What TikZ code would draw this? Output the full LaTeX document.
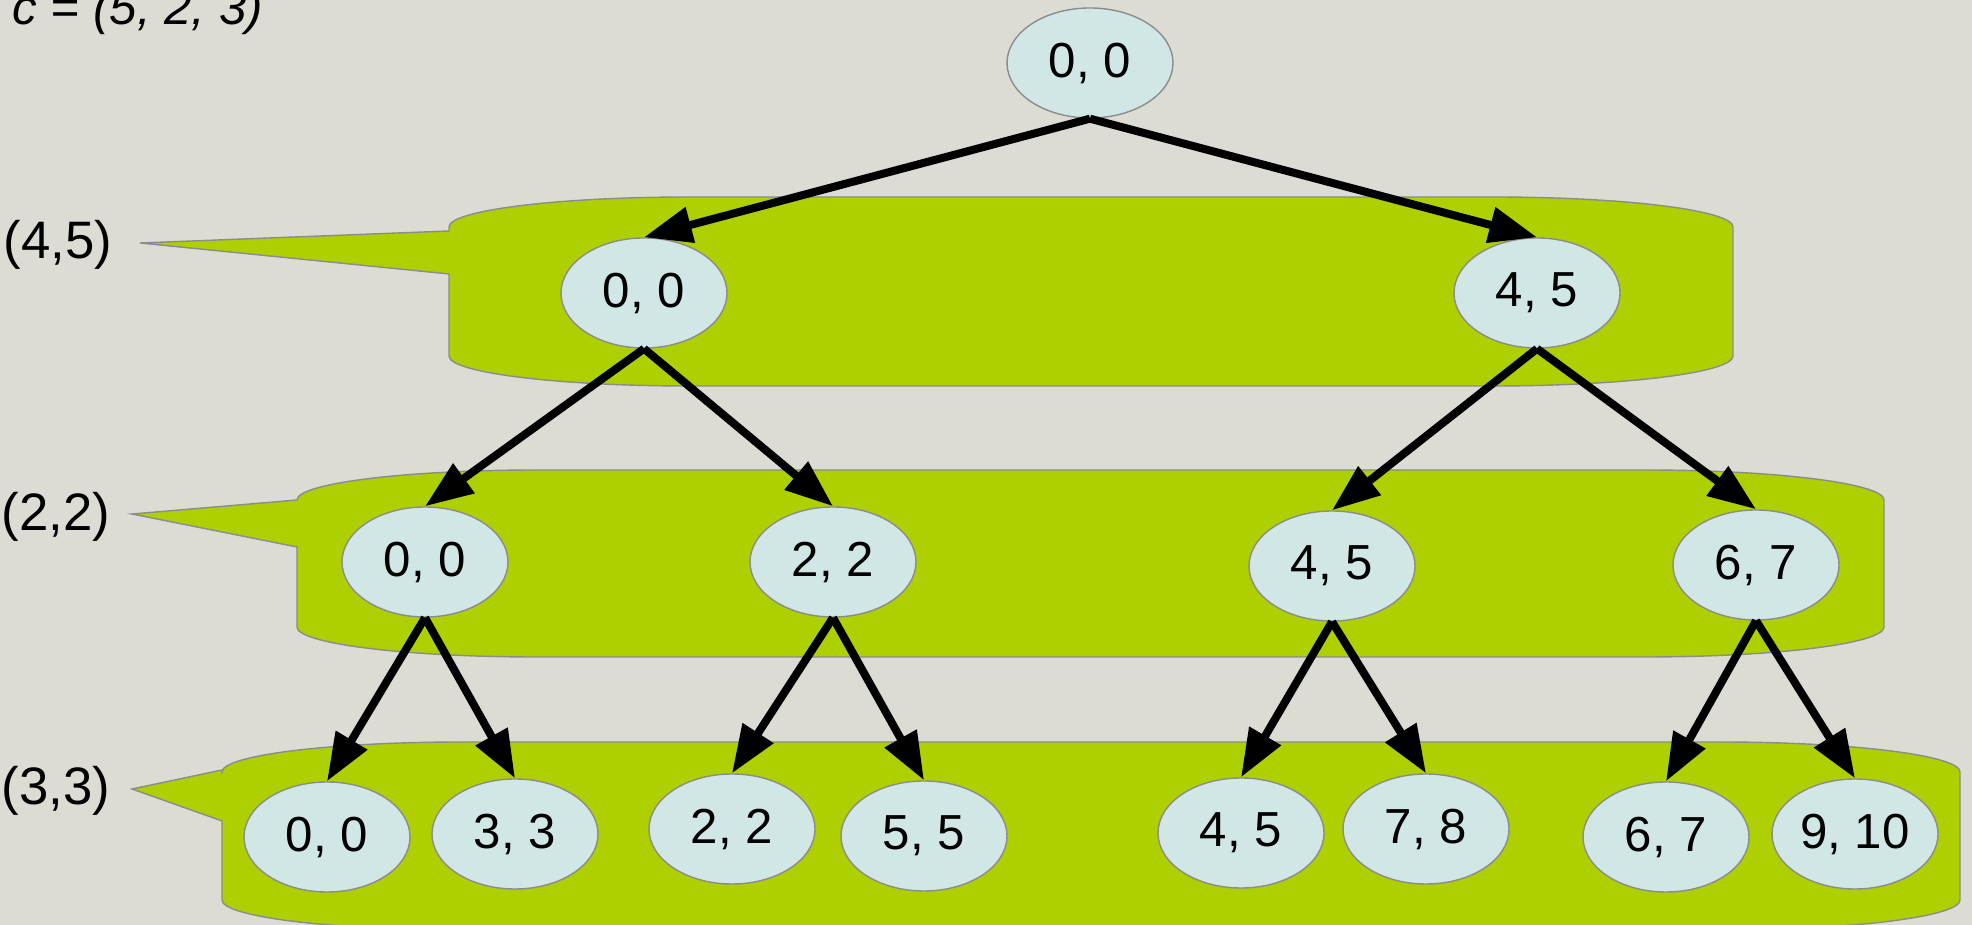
\documentclass[tikz,border=0pt]{standalone}
\usepackage{fontspec}
\setmainfont{Liberation Sans}
\usetikzlibrary{arrows.meta,shapes.geometric}

\definecolor{paper}{RGB}{221,220,212}
\definecolor{leaf}{RGB}{174,207,0}
\definecolor{cell}{RGB}{208,231,230}

% speech bubble: left, right, top, bottom, tip x, tip y, upper and lower joint of the tail
\newcommand{\callout}[8]{%
\filldraw[bubble] (#1,#7) -- (#5,#6) -- (#1,#8) -- (#1,#4+0.3)
 arc[start angle=180,end angle=270,x radius=2.4,y radius=0.3] -- (#2-2.4,#4)
 arc[start angle=270,end angle=360,x radius=2.4,y radius=0.3] -- (#2,#3-0.3)
 arc[start angle=0,end angle=90,x radius=2.4,y radius=0.3] -- (#1+2.4,#3)
 arc[start angle=90,end angle=180,x radius=2.4,y radius=0.3] -- cycle;}

\begin{document}
\begin{tikzpicture}[
  pair/.style={ellipse,draw=black!45,line width=0.4pt,fill=cell,minimum width=1.66cm,minimum height=1.10cm,inner sep=0pt,font=\fontsize{14}{16}\selectfont},
  level/.style={anchor=east,inner sep=0pt,font=\fontsize{15}{17}\selectfont},
  bubble/.style={fill=leaf,draw=black!45,line width=0.4pt},
  link/.style={line width=0.08cm,-{Triangle[length=4.8mm,width=3.5mm]}}]
\fill[paper] (0,0) rectangle (19.72,-9.25);
\clip (0,0) rectangle (19.72,-9.25);

\node[anchor=base west,inner sep=0pt,font=\fontsize{14}{16}\selectfont\itshape] (cv) at (0.12,-0.25) {c = (5, 2, 3)};

% one bubble per level
\callout{4.49}{17.33}{-1.97}{-3.86}{1.40}{-2.43}{-2.31}{-2.74}
\callout{2.97}{18.84}{-4.70}{-6.57}{1.32}{-5.14}{-5.00}{-5.47}
\callout{2.22}{19.60}{-7.42}{-9.30}{1.32}{-7.89}{-7.70}{-8.21}
\node[level] (s1) at (1.13,-2.45) {(4,5)};
\node[level] (s2) at (1.11,-5.17) {(2,2)};
\node[level] (s3) at (1.11,-7.91) {(3,3)};

\node[pair] (r) at (10.90,-0.63) {0, 0};
\node[pair] (a1) at (6.44,-2.93) {0, 0}; \node[pair] (a2) at (15.37,-2.93) {4, 5};
\node[pair] (b1) at (4.25,-5.62) {0, 0}; \node[pair] (b2) at (8.33,-5.62) {2, 2};
\node[pair] (b3) at (13.32,-5.66) {4, 5}; \node[pair] (b4) at (17.56,-5.65) {6, 7};
\node[pair] (c1) at (3.27,-8.37) {0, 0}; \node[pair] (c2) at (5.15,-8.34) {3, 3};
\node[pair] (c3) at (7.32,-8.29) {2, 2}; \node[pair] (c4) at (9.24,-8.36) {5, 5};
\node[pair] (c5) at (12.41,-8.33) {4, 5}; \node[pair] (c6) at (14.26,-8.29) {7, 8};
\node[pair] (c7) at (16.66,-8.37) {6, 7}; \node[pair] (c8) at (18.55,-8.34) {9, 10};

\draw[link] (r.south) -- (a1.north); \draw[link] (r.south) -- (a2.north);
\draw[link] (a1.south) -- (b1.north); \draw[link] (a1.south) -- (b2.north);
\draw[link] (a2.south) -- (b3.north); \draw[link] (a2.south) -- (b4.north);
\draw[link] (b1.south) -- (c1.north); \draw[link] (b1.south) -- (c2.north);
\draw[link] (b2.south) -- (c3.north); \draw[link] (b2.south) -- (c4.north);
\draw[link] (b3.south) -- (c5.north); \draw[link] (b3.south) -- (c6.north);
\draw[link] (b4.south) -- (c7.north); \draw[link] (b4.south) -- (c8.north);
\end{tikzpicture}
\end{document}
